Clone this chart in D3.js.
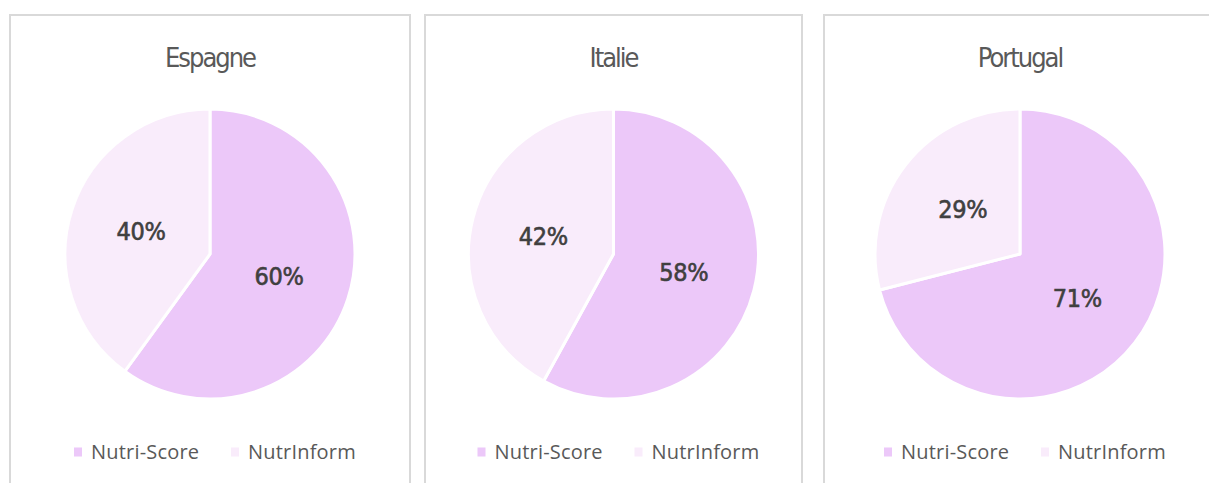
<!DOCTYPE html>
<html lang="fr">
<head>
<meta charset="UTF-8">
<title>Nutri-Score vs NutrInform</title>
<style>
    body { margin: 0; padding: 0; background: #ffffff; }
    svg { display: block; }
    .title { font-family: "DejaVu Sans Condensed", "DejaVu Sans", sans-serif; font-size: 27px; fill: #595959; letter-spacing: -2px; }
    .pct { font-family: "DejaVu Sans Condensed", "DejaVu Sans", sans-serif; font-size: 25px; fill: #404040; stroke: #404040; stroke-width: 0.6px; letter-spacing: -0.3px; }
    .legend-text { font-family: "Open Sans", "Liberation Sans", sans-serif; font-size: 20px; fill: #595959; letter-spacing: 0.2px; }
</style>
</head>
<body>
<div id="chart"></div>
<script src="https://cdn.jsdelivr.net/npm/d3@7"></script>
<script>
    // data
    const countries = ["Espagne", "Italie", "Portugal"];
    const labels = ["Nutri-Score", "NutrInform"];
    const nutriScore = [60, 58, 71];
    const nutrInform = [40, 42, 29];

    const w = 1209;
    const h = 483;

    // panel frames (left, right) in pixels
    const panels = [[10, 410], [425, 802], [824, 1216]];
    const pieCy = 254;
    const radius = 145;

    const color = d3.scaleOrdinal()
        .domain(labels)
        .range(["#ecc8f9", "#f9ecfb"]);

    const svg = d3.select("#chart")
        .append("svg")
        .attr("width", w)
        .attr("height", h);

    const pie = d3.pie().sort(null).value(d => d.value);
    const arc = d3.arc().innerRadius(0).outerRadius(radius);

    countries.forEach((country, i) => {
        const [x0, x1] = panels[i];
        const cx = (x0 + x1) / 2;
        const g = svg.append("g");

        g.append("rect")
            .attr("x", x0)
            .attr("y", 15)
            .attr("width", x1 - x0)
            .attr("height", h + 20)
            .attr("fill", "none")
            .attr("stroke", "#d9d9d9")
            .attr("stroke-width", 2);

        g.append("text")
            .attr("class", "title")
            .attr("x", cx)
            .attr("y", 67)
            .attr("text-anchor", "middle")
            .text(country);

        const values = [
            { key: labels[0], value: nutriScore[i] },
            { key: labels[1], value: nutrInform[i] }
        ];

        const pg = g.append("g").attr("transform", `translate(${cx}, ${pieCy})`);
        const arcs = pie(values);

        pg.selectAll("path")
            .data(arcs)
            .enter()
            .append("path")
            .attr("d", arc)
            .attr("fill", d => color(d.data.key))
            .attr("stroke", "#ffffff")
            .attr("stroke-width", 3)
            .attr("stroke-linejoin", "round");

        pg.selectAll("text")
            .data(arcs)
            .enter()
            .append("text")
            .attr("class", "pct")
            .attr("x", d => arc.centroid(d)[0])
            .attr("y", d => arc.centroid(d)[1])
            .attr("dy", "0.35em")
            .attr("text-anchor", "middle")
            .text(d => d.data.value + "%");

        // legend
        const lg = g.append("g").attr("transform", `translate(${cx + 5}, 452)`);
        const offsets = [-141, 16];
        labels.forEach((lab, j) => {
            lg.append("rect")
                .attr("x", offsets[j])
                .attr("y", -4.5)
                .attr("width", 8)
                .attr("height", 9)
                .attr("fill", color(lab));
            lg.append("text")
                .attr("class", "legend-text")
                .attr("x", offsets[j] + 17)
                .attr("y", 7)
                .text(lab);
        });
    });
</script>
</body>
</html>
